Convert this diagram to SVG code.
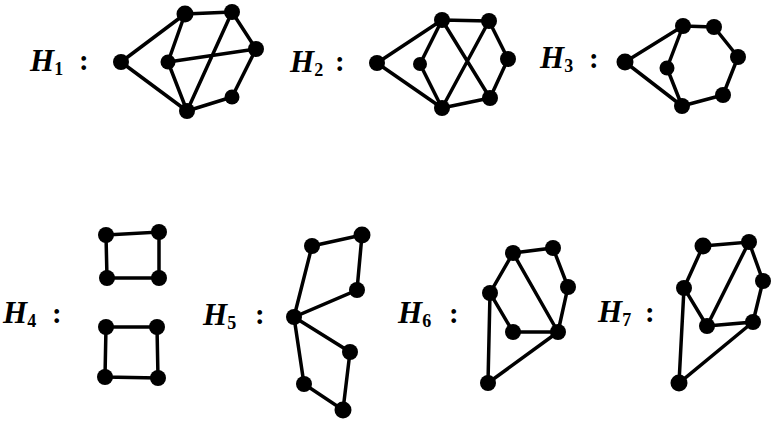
<svg xmlns="http://www.w3.org/2000/svg" width="775" height="423" viewBox="0 0 775 423">
<style>
.e{stroke:#000;stroke-width:3.5;fill:none;stroke-linecap:round}
.n{fill:#000}
.lbl{font-family:"Liberation Serif","DejaVu Serif",serif;font-weight:bold;font-style:italic;font-size:31px;fill:#000}
.sub{font-size:18px;font-style:normal}
.col{font-family:"Liberation Serif","DejaVu Serif",serif;font-weight:bold;font-size:29px;fill:#000}
</style>
<rect width="775" height="423" fill="#fff"/>
<g id="labels">
<text class="lbl" x="30" y="71">H<tspan class="sub" dy="4">1</tspan></text><text class="col" x="79" y="70">:</text>
<text class="lbl" x="290" y="72">H<tspan class="sub" dy="4">2</tspan></text><text class="col" x="335" y="71">:</text>
<text class="lbl" x="540" y="68">H<tspan class="sub" dy="4">3</tspan></text><text class="col" x="589" y="68">:</text>
<text class="lbl" x="3" y="323">H<tspan class="sub" dy="4">4</tspan></text><text class="col" x="52" y="323">:</text>
<text class="lbl" x="203" y="325">H<tspan class="sub" dy="4">5</tspan></text><text class="col" x="255" y="324">:</text>
<text class="lbl" x="398" y="323">H<tspan class="sub" dy="4">6</tspan></text><text class="col" x="449" y="323">:</text>
<text class="lbl" x="598" y="322">H<tspan class="sub" dy="4">7</tspan></text><text class="col" x="645" y="322">:</text>
</g>
<g id="connectors">
<!-- H1 -->
<path class="e" d="M121,62L185,14M121,62L187,111M185,14L232,12M185,14L168,62M232,12L256,49M232,12L187,111M168,62L256,49M168,62L187,111M256,49L232,97M232,97L187,111"/>
<!-- H2 -->
<path class="e" d="M377,63L442,20M377,63L442,108M442,20L489,21M442,20L420,64M442,20L490,98M489,21L442,108M489,21L508,59M508,59L490,98M420,64L442,108M490,98L442,108"/>
<!-- H3 -->
<path class="e" d="M625,62L683,26M625,62L682,106M683,26L714,27M683,26L667,68M714,27L738,57M738,57L723,95M723,95L682,106M667,68L682,106"/>
<!-- H4 -->
<path class="e" d="M106,235L159,232L159,278L107,278Z M106,327L157,327L158,378L105,377Z"/>
<!-- H5 -->
<path class="e" d="M312,246L362,235L357,290L294,317Z M294,317L350,352L343,410L304,384Z"/>
<!-- H6 -->
<path class="e" d="M513,253L553,248L568,287L558,332M513,253L490,293L513,332L558,332M513,253L558,332M490,293L488,383L558,332"/>
<!-- H7 -->
<path class="e" d="M703,246L749,242L763,281L753,322L707,326L749,242M703,246L684,288L707,326M684,288L679,383L753,322"/>
</g>
<g id="H1">
<circle class="n" cx="121" cy="62" r="8"/><circle class="n" cx="185" cy="14" r="8.5"/><circle class="n" cx="232" cy="12" r="8"/><circle class="n" cx="256" cy="49" r="8"/><circle class="n" cx="168" cy="62" r="7.5"/><circle class="n" cx="232" cy="97" r="7.5"/><circle class="n" cx="187" cy="111" r="8"/>
</g>
<g id="H2">
<circle class="n" cx="377" cy="63" r="8"/><circle class="n" cx="442" cy="20" r="8"/><circle class="n" cx="489" cy="21" r="8"/><circle class="n" cx="508" cy="59" r="8"/><circle class="n" cx="420" cy="64" r="7"/><circle class="n" cx="490" cy="98" r="8"/><circle class="n" cx="442" cy="108" r="8"/>
</g>
<g id="H3">
<circle class="n" cx="625" cy="62" r="8.5"/><circle class="n" cx="683" cy="26" r="8"/><circle class="n" cx="714" cy="27" r="8"/><circle class="n" cx="738" cy="57" r="8"/><circle class="n" cx="667" cy="68" r="7.5"/><circle class="n" cx="723" cy="95" r="8"/><circle class="n" cx="682" cy="106" r="8"/>
</g>
<g id="H4">
<circle class="n" cx="106" cy="235" r="8"/><circle class="n" cx="159" cy="232" r="8"/><circle class="n" cx="107" cy="278" r="8"/><circle class="n" cx="159" cy="278" r="8"/>
<circle class="n" cx="106" cy="327" r="8"/><circle class="n" cx="157" cy="327" r="8"/><circle class="n" cx="105" cy="377" r="8"/><circle class="n" cx="158" cy="378" r="8"/>
</g>
<g id="H5">
<circle class="n" cx="312" cy="246" r="8"/><circle class="n" cx="362" cy="235" r="8.5"/><circle class="n" cx="357" cy="290" r="8"/><circle class="n" cx="294" cy="317" r="8"/><circle class="n" cx="350" cy="352" r="8"/><circle class="n" cx="304" cy="384" r="8"/><circle class="n" cx="343" cy="410" r="8.5"/>
</g>
<g id="H6">
<circle class="n" cx="513" cy="253" r="8"/><circle class="n" cx="553" cy="248" r="8"/><circle class="n" cx="568" cy="287" r="8"/><circle class="n" cx="490" cy="293" r="8"/><circle class="n" cx="513" cy="332" r="8"/><circle class="n" cx="558" cy="332" r="8"/><circle class="n" cx="488" cy="383" r="8"/>
</g>
<g id="H7">
<circle class="n" cx="703" cy="246" r="8.5"/><circle class="n" cx="749" cy="242" r="8"/><circle class="n" cx="763" cy="281" r="8"/><circle class="n" cx="684" cy="288" r="8"/><circle class="n" cx="707" cy="326" r="8"/><circle class="n" cx="753" cy="322" r="8"/><circle class="n" cx="679" cy="383" r="8.5"/>
</g>
</svg>
